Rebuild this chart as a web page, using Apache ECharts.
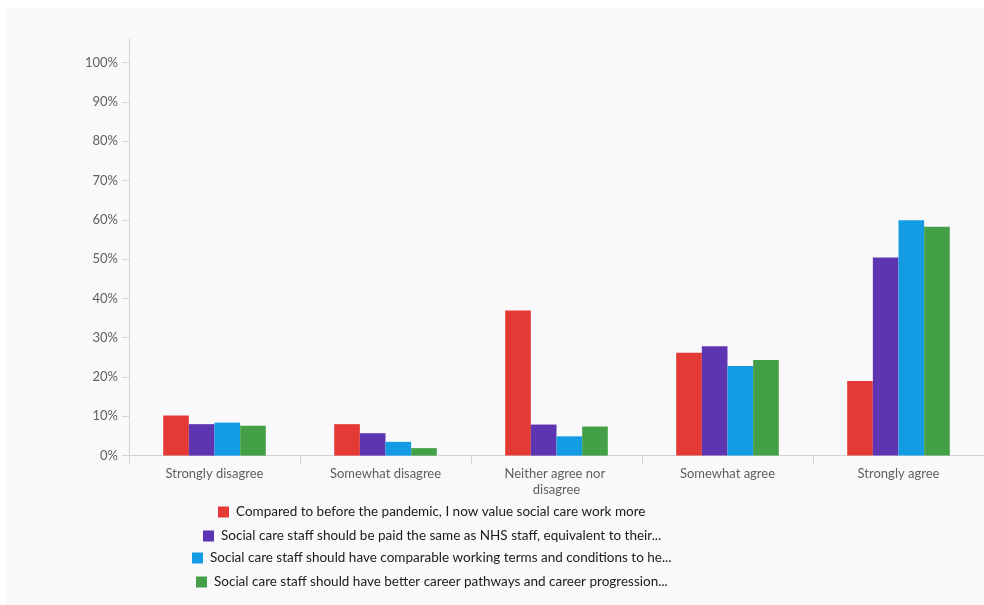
<!DOCTYPE html>
<html>
<head>
<meta charset="utf-8">
<title>Views on social care work</title>
<script src="https://cdn.jsdelivr.net/npm/echarts@6/dist/echarts.min.js"></script>
<style>
  html, body { margin: 0; padding: 0; background: #ffffff; }
  #chart { width: 984px; height: 605px; }
</style>
</head>
<body>
<div id="chart"></div>
<script>
// Response categories along the x axis
const categories = [
  'Strongly disagree',
  'Somewhat disagree',
  'Neither agree nor disagree',
  'Somewhat agree',
  'Strongly agree'
];

// Statement labels (as shown in the legend)
const seriesNames = [
  'Compared to before the pandemic, I now value social care work more',
  'Social care staff should be paid the same as NHS staff, equivalent to their...',
  'Social care staff should have comparable working terms and conditions to he...',
  'Social care staff should have better career pathways and career progression...'
];

// Share of respondents (%) per category, one array per statement
const valueMore = [10.2, 8.0, 36.9, 26.2, 19.0];
const paidSame = [8.0, 5.7, 7.9, 27.8, 50.4];
const comparableTerms = [8.4, 3.5, 4.9, 22.8, 59.9];
const careerPathways = [7.6, 1.9, 7.4, 24.3, 58.2];

// Y axis tick values
const yTicks = [0, 10, 20, 30, 40, 50, 60, 70, 80, 90, 100];

const seriesValues = [valueMore, paidSame, comparableTerms, careerPathways];
const colors = ['#e53935', '#5e35b1', '#139be4', '#43a047'];

const axisFont = 'Lato, "Open Sans", sans-serif';
const legendFont = 'Lato, "Liberation Sans", sans-serif';
const legendFontSize = 13.5;
const legendIcon = 11;
const legendTextGap = 2; // extra space between swatch and text
const legendCenterX = 432;
const legendTops = [505, 529, 551, 575];

// Measure legend text so each legend line can be centred on its own
const measureCtx = document.createElement('canvas').getContext('2d');
measureCtx.font = legendFontSize + 'px ' + legendFont;
function legendLeft(name) {
  const w = legendIcon + 5 + legendTextGap + measureCtx.measureText(name).width;
  return Math.round(legendCenterX - w / 2);
}

const chart = echarts.init(document.getElementById('chart'), null, { renderer: 'canvas' });

chart.setOption({
  animation: false,
  backgroundColor: '#ffffff',
  color: colors,
  graphic: [{
    type: 'rect',
    z: -10,
    silent: true,
    shape: { x: 6, y: 8, width: 978, height: 597 },
    style: { fill: '#f9f9fb' }
  }],
  grid: {
    left: 129,
    top: 39,
    width: 858,
    height: 416.6,
    containLabel: false
  },
  legend: seriesNames.map((name, i) => ({
    data: [name],
    orient: 'horizontal',
    left: legendLeft(name),
    top: legendTops[i],
    padding: 0,
    icon: 'rect',
    itemWidth: legendIcon,
    itemHeight: legendIcon,
    selectedMode: false,
    textStyle: {
      fontFamily: legendFont,
      fontSize: legendFontSize,
      color: '#1a1a1a',
      padding: [0, 0, 0, legendTextGap]
    }
  })),
  xAxis: {
    type: 'category',
    data: categories,
    boundaryGap: true,
    axisLine: { lineStyle: { color: '#d2d2d6', width: 1 } },
    axisTick: { show: true, length: 8, lineStyle: { color: '#d2d2d6' } },
    axisLabel: {
      interval: 0,
      margin: 10,
      color: '#5f5f5f',
      fontFamily: axisFont,
      fontSize: 13,
      lineHeight: 16,
      width: 120,
      overflow: 'break'
    },
    splitLine: { show: false }
  },
  yAxis: {
    type: 'value',
    min: 0,
    max: 106,
    interval: 10,
    axisLine: { show: true, lineStyle: { color: '#d2d2d6', width: 1 } },
    axisTick: {
      show: true,
      length: 7,
      customValues: yTicks,
      lineStyle: { color: '#d2d2d6' }
    },
    axisLabel: {
      customValues: yTicks,
      formatter: '{value}%',
      margin: 11,
      color: '#5f5f5f',
      fontFamily: axisFont,
      fontSize: 13
    },
    splitLine: { show: false }
  },
  series: seriesNames.map((name, i) => ({
    name: name,
    type: 'bar',
    data: seriesValues[i],
    barGap: '0%',
    barCategoryGap: '40%',
    itemStyle: { color: colors[i] }
  }))
});
</script>
</body>
</html>
